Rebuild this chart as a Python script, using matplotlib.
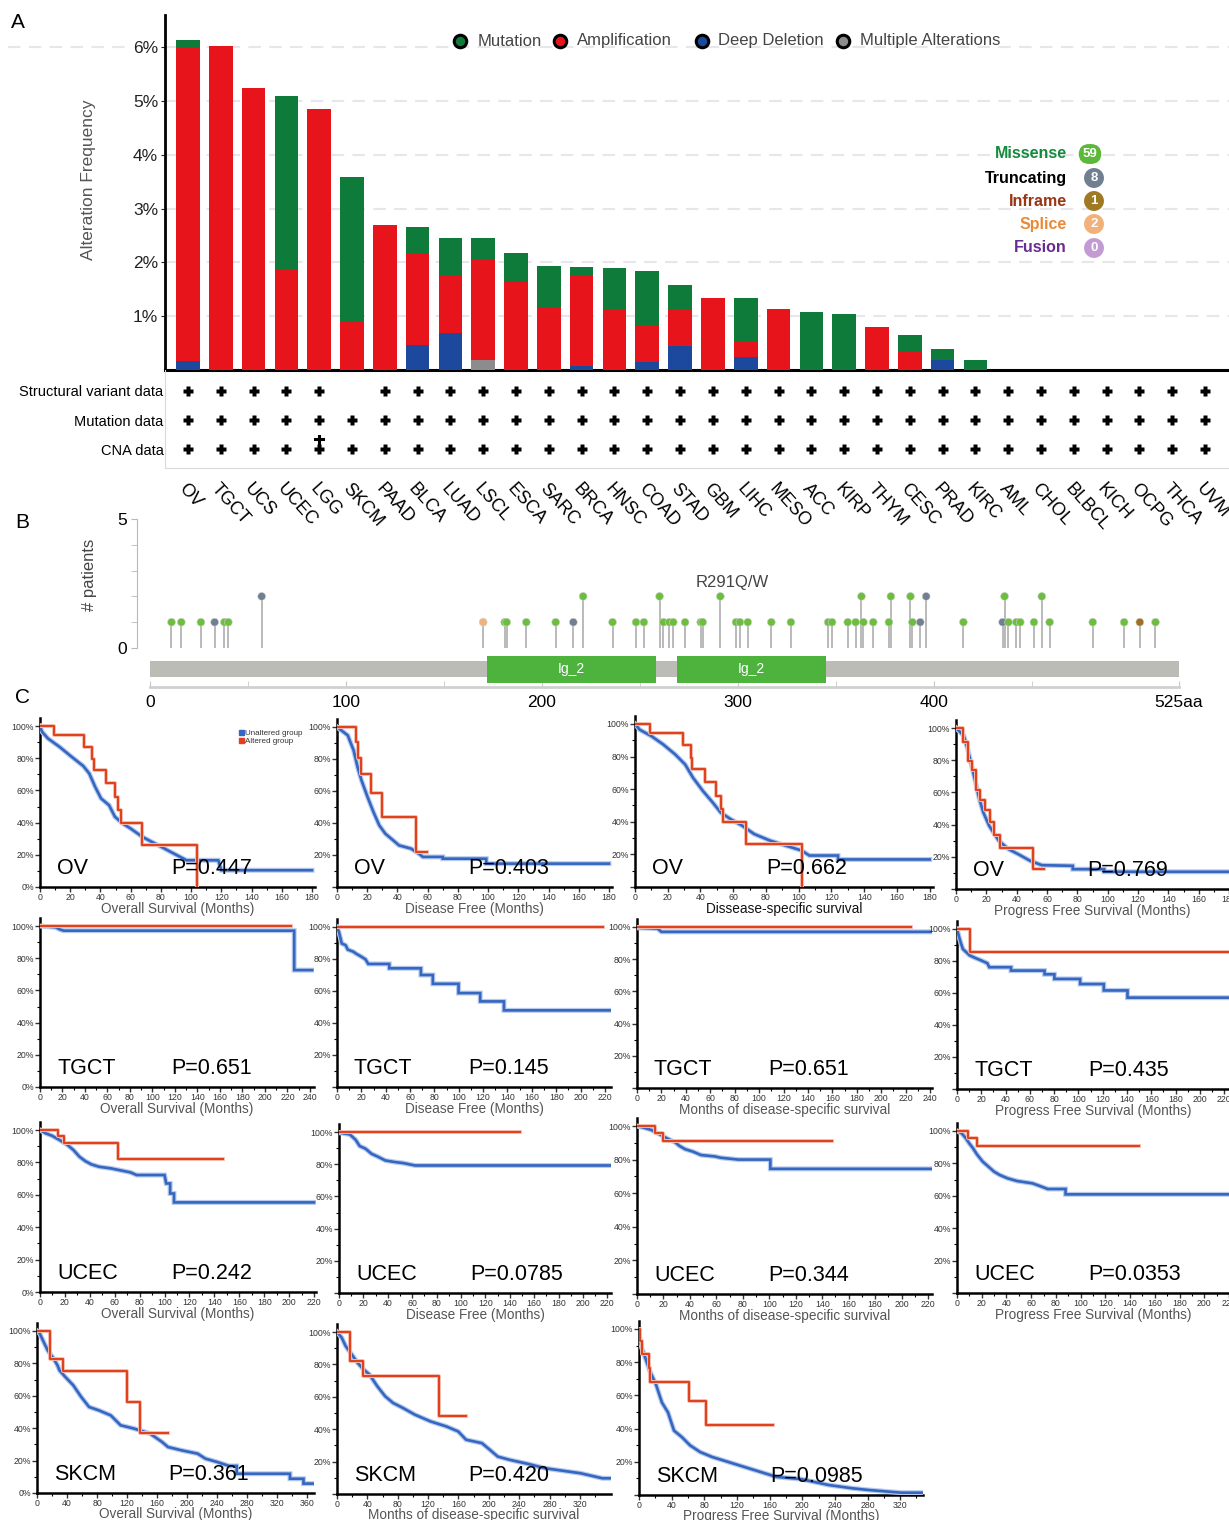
import numpy as np
import matplotlib
matplotlib.use('Agg')
import matplotlib.pyplot as plt
from matplotlib.lines import Line2D
from matplotlib.patches import Patch, Rectangle
import matplotlib.patheffects as pe

plt.rcParams['font.family'] = ['Liberation Sans', 'DejaVu Sans']

# ---------------- panel A data ----------------
CANCER_TYPES = ["OV", "TGCT", "UCS", "UCEC", "LGG", "SKCM", "PAAD", "BLCA", "LUAD", "LSCL",
                "ESCA", "SARC", "BRCA", "HNSC", "COAD", "STAD", "GBM", "LIHC", "MESO", "ACC",
                "KIRP", "THYM", "CESC", "PRAD", "KIRC", "AML", "CHOL", "BLBCL", "KICH", "OCPG",
                "THCA", "UVM"]
DEEP_DELETION = [0.16, 0, 0, 0, 0, 0, 0, 0.47, 0.69, 0, 0, 0, 0.08, 0, 0.155, 0.445, 0, 0.25,
                 0, 0, 0, 0, 0, 0.19, 0, 0, 0, 0, 0, 0, 0, 0]
MULTIPLE = [0, 0, 0, 0, 0, 0, 0, 0, 0, 0.19, 0, 0, 0, 0, 0, 0, 0, 0,
            0, 0, 0, 0, 0, 0, 0, 0, 0, 0, 0, 0, 0, 0]
AMPLIFICATION = [5.82, 6.02, 5.25, 1.875, 4.85, 0.885, 2.70, 1.70, 1.06, 1.85, 1.64, 1.16, 1.66,
                 1.13, 0.675, 0.68, 1.34, 0.28, 1.13, 0, 0, 0.80, 0.33, 0, 0, 0, 0, 0, 0, 0, 0, 0]
MUTATION = [0.16, 0, 0, 3.21, 0, 2.705, 0, 0.49, 0.71, 0.41, 0.54, 0.78, 0.18, 0.77, 1.01, 0.45,
            0, 0.80, 0, 1.08, 1.05, 0, 0.33, 0.20, 0.19, 0, 0, 0, 0, 0, 0, 0]
SV_PROFILED = [1, 1, 1, 1, 1, 0] + [1] * 26
MUT_PROFILED = [1] * 32
CNA_PROFILED = [1, 1, 1, 1, 2] + [1] * 27   # 2 = double mark (LGG)

MUT_TYPES = ["Missense", "Truncating", "Inframe", "Splice", "Fusion"]
MUT_TYPE_COUNTS = [59, 8, 1, 2, 0]

# ---------------- panel B data ----------------
LOLLI_POS = [11, 16, 26, 33, 38, 40, 57, 170, 181, 182, 192, 207, 216, 221, 236, 248, 252, 260,
             262, 265, 267, 273, 281, 282, 291, 299, 301, 305, 317, 327, 346, 348, 356, 360, 363,
             364, 369, 377, 378, 388, 389, 393, 396, 415, 435, 436, 438, 442, 444, 451, 455, 459,
             481, 497, 505, 513]
LOLLI_COUNT = [1, 1, 1, 1, 1, 1, 2, 1, 1, 1, 1, 1, 1, 2, 1, 1, 1, 2,
               1, 1, 1, 1, 1, 1, 2, 1, 1, 1, 1, 1, 1, 1, 1, 1, 2,
               1, 1, 1, 2, 2, 1, 1, 2, 1, 1, 2, 1, 1, 1, 1, 2, 1,
               1, 1, 1, 1]
LOLLI_TYPE = ["M", "M", "M", "T", "M", "M", "T", "S", "M", "M", "M", "M", "T", "M", "M", "M", "M", "M",
              "M", "M", "M", "M", "M", "M", "M", "M", "M", "M", "M", "M", "M", "M", "M", "M", "M",
              "M", "M", "M", "M", "M", "M", "T", "T", "M", "T", "M", "M", "M", "M", "M", "M", "M",
              "M", "M", "I", "M"]
PROTEIN_LENGTH = 525
DOMAIN_START = [172, 269]
DOMAIN_END = [258, 345]
DOMAIN_NAME = ["Ig_2", "Ig_2"]

# ---------------- panel C data (Kaplan-Meier, months / %) ----------------
OV_OS_ALT_T = [0, 9, 29, 34.4, 35.7, 43.8, 49.6, 51.7, 53.5, 67.6, 103.8]
OV_OS_ALT_S = [100, 94.2, 86.9, 79.5, 72.4, 64.5, 56.2, 48.1, 39.8, 26.3, 0]
OV_OS_UN_T = [0, 1.3, 5.2, 13, 20.9, 28.7, 32.6, 36.5, 40.4, 45.7, 49.6, 54.8, 60, 67.8, 78.3, 88.7, 97, 118, 120, 180]
OV_OS_UN_S = [100, 96.5, 92.3, 87, 80.9, 75.1, 70.5, 62.2, 55, 50.8, 43.6, 39.4, 36.3, 31.1, 25.9, 20.7, 16.6, 16.6, 10.4, 10.4]

OV_DFS_ALT_T = [0, 12.3, 13.6, 16.2, 22.8, 29.9, 52.1, 59.5]
OV_DFS_ALT_S = [100, 90.6, 80.8, 70.6, 58.8, 43.8, 21.9, 21.9]
OV_DFS_UN_T = [0, 7.1, 11, 13.6, 16.2, 20.2, 24.1, 28, 32, 35.9, 41.1, 49, 54.2, 56.8, 70, 70, 98.8, 98.8, 180]
OV_DFS_UN_S = [100, 94.8, 85.4, 75, 66.7, 56.3, 46.9, 38.5, 33.3, 30.2, 26, 24, 20.8, 18.8, 18.8, 17.7, 17.7, 14.6, 14.6]

OV_DSS_ALT_T = [0, 8.9, 29.4, 34.2, 34.9, 42.7, 49.4, 52.3, 53.5, 67.5, 102.2]
OV_DSS_ALT_S = [100, 94.5, 87, 79.3, 72.2, 64.4, 55.9, 47.8, 39.6, 26.4, 0]
OV_DSS_UN_T = [0, 2.9, 10.1, 17.3, 24.6, 30.6, 35.4, 41.4, 47.5, 52.3, 58.3, 65.5, 72.8, 82.4, 92, 101.7, 106.5, 124, 124, 180]
OV_DSS_UN_S = [100, 96.5, 92.5, 87.4, 81.3, 75.2, 67.1, 59, 51.8, 45.7, 41.7, 37.6, 32.5, 28.5, 25.4, 22.4, 19.3, 19.3, 16.9, 16.9]

OV_PFS_ALT_T = [0, 4.6, 7.7, 10.3, 12.9, 15.9, 19.3, 22.4, 24.9, 29.1, 50.9, 57.9]
OV_PFS_ALT_S = [100, 91.1, 79.7, 73.9, 61.7, 55.4, 49, 41.8, 33.7, 25.4, 12.4, 12.4]
OV_PFS_UN_T = [0, 5.1, 7.7, 10.3, 12.9, 15.4, 18, 21.9, 28.3, 34.7, 41.1, 48.9, 56.6, 77, 77, 97.7, 97.7, 180]
OV_PFS_UN_S = [100, 95.2, 86.9, 76.6, 66.2, 55.8, 47.6, 39.2, 29.9, 24.7, 21.6, 17.5, 14.8, 14.4, 12.3, 12.3, 10.7, 10.7]

TGCT_OS_ALT_T = [0, 223.5]
TGCT_OS_ALT_S = [100, 100]
TGCT_OS_UN_T = [0, 14, 17.5, 21, 226, 226, 242]
TGCT_OS_UN_S = [100, 99.2, 97.9, 97.1, 97.1, 72.6, 72.6]

TGCT_DFS_ALT_T = [0, 218.4]
TGCT_DFS_ALT_S = [100, 100]
TGCT_DFS_UN_T = [0, 1.6, 3.9, 7.1, 8.8, 13.6, 15.3, 20.1, 23.4, 25.7, 42.9, 42.9, 68.9, 68.9, 78.7, 78.7,
                 99.8, 99.8, 117.6, 117.6, 137.1, 137.1, 225]
TGCT_DFS_UN_S = [100, 96.9, 89.7, 88.6, 85.9, 84.5, 83.5, 81.4, 79.8, 76.9, 76.9, 74.2, 74.2, 70, 70, 64.5,
                 64.5, 58.7, 58.7, 53.5, 53.5, 47.9, 47.9]

TGCT_DSS_ALT_T = [0, 224]
TGCT_DSS_ALT_S = [100, 100]
TGCT_DSS_UN_T = [0, 16.8, 20, 242]
TGCT_DSS_UN_S = [99.5, 99, 97, 97]

TGCT_PFS_ALT_T = [0, 10.4, 223]
TGCT_PFS_ALT_S = [100, 85.5, 85.5]
TGCT_PFS_UN_T = [0, 1.6, 3.2, 4.9, 7.1, 10.4, 15.3, 20.1, 25, 26.6, 44.5, 44.5, 72.1, 72.1, 80.2, 80.2,
                 101.4, 101.4, 120.9, 120.9, 140.4, 140.4, 230]
TGCT_PFS_UN_S = [100, 95.4, 91.2, 87.4, 85.9, 83.5, 81.8, 80.3, 78.6, 76.1, 76.1, 74, 74, 71.7, 71.7, 68.8,
                 68.8, 65.6, 65.6, 61.6, 61.6, 57.1, 57.1]

UCEC_OS_ALT_T = [0, 14.2, 19, 62.7, 147.2]
UCEC_OS_ALT_S = [100, 96.3, 91.8, 82.1, 82.1]
UCEC_OS_UN_T = [0, 4.7, 9.5, 15.8, 22.2, 26.9, 31.7, 36.4, 41.2, 47.5, 57, 63.3, 72.8, 77.6, 100, 101.3,
                104.5, 104.5, 107.6, 107.6, 220]
UCEC_OS_UN_S = [100, 97.9, 96.5, 93.8, 90.7, 87.6, 83.5, 80.8, 78.8, 77.3, 76.3, 75.3, 73.8, 72.2, 72.2, 67,
                67, 60.8, 60.8, 55.3, 55.3]

UCEC_DFS_ALT_T = [0, 148.5]
UCEC_DFS_ALT_S = [100, 100]
UCEC_DFS_UN_T = [0, 8.8, 13.6, 16.9, 21.8, 26.6, 31.5, 38, 46.1, 52.6, 62.4, 222]
UCEC_DFS_UN_S = [99.6, 98.5, 95.2, 91.3, 89.6, 86.5, 84.8, 82.3, 81.3, 80.7, 79.2, 79.2]

UCEC_DSS_ALT_T = [0, 13.4, 19.4, 147.5]
UCEC_DSS_ALT_S = [100, 96.1, 91.2, 91.2]
UCEC_DSS_UN_T = [0, 5.1, 11, 17, 23, 29, 32, 36.4, 42.4, 48.4, 58.8, 63.3, 76.7, 100.8, 100.8, 223]
UCEC_DSS_UN_S = [100, 99, 97.6, 95.1, 92.5, 90.2, 88.2, 86.2, 84.7, 82.7, 81.9, 81.1, 80, 80, 74.5, 74.5]

UCEC_PFS_ALT_T = [0, 9.3, 16.1, 147.2]
UCEC_PFS_ALT_S = [100, 95.9, 91, 91]
UCEC_PFS_UN_T = [0, 3.7, 6.8, 9.9, 13, 16.1, 20.8, 25.4, 30, 34.7, 40.9, 48.7, 61, 67.2, 73.4, 87.8, 87.8, 222]
UCEC_PFS_UN_S = [100, 98.6, 95.9, 92.4, 89.3, 85.6, 81.1, 78, 74.9, 72.8, 70.8, 69.1, 67.7, 66, 64.2, 64.2, 60.9, 60.9]

SKCM_OS_ALT_T = [0, 16.8, 35.2, 119.3, 137.7, 174.5]
SKCM_OS_ALT_S = [100, 82.9, 75.1, 56.2, 37, 37]
SKCM_OS_UN_T = [0, 3.7, 8.9, 14.2, 22.1, 27.3, 30, 37.8, 48.3, 58.9, 69.4, 82.5, 98.3, 111.4, 129.8, 150.8,
                166.6, 174.5, 192.9, 213.9, 224.4, 240.2, 255.9, 266, 266, 337, 337, 355, 355, 369]
SKCM_OS_UN_S = [100, 98.4, 93.2, 88.1, 82.9, 78.8, 75.7, 71.6, 66.5, 59.3, 53.1, 51, 47.9, 41.8, 39.7, 36.6,
                31.5, 28.4, 26.3, 24.3, 21.2, 19.1, 16.7, 16.7, 11.9, 11.9, 8.8, 8.8, 5.8, 5.8]

SKCM_DSS_ALT_T = [0, 16.6, 34.9, 134.8, 170]
SKCM_DSS_ALT_S = [100, 82, 72.7, 48.3, 48.3]
SKCM_DSS_UN_T = [0, 6.2, 11.4, 19.3, 27.1, 34.9, 42.7, 53.1, 63.5, 73.9, 86.9, 102.5, 123.3, 144.1, 159.7,
                 170.1, 190.9, 201.4, 211.8, 227.4, 253.4, 274.2, 321, 349.6, 360]
SKCM_DSS_UN_S = [100, 96.5, 91.3, 86.2, 81, 76.9, 73.8, 66.5, 60.3, 56.2, 53.1, 49, 44.8, 41.7, 38.6,
                 33.5, 31.4, 27.3, 23.1, 21.1, 18.4, 15.9, 12.8, 9.7, 9.7]

SKCM_PFS_ALT_T = [0, 1.5, 3.5, 12.3, 13.5, 61, 82.3, 164.5]
SKCM_PFS_ALT_S = [100, 92.5, 85, 76.6, 68.2, 56.7, 42.3, 42.3]
SKCM_PFS_UN_T = [0, 1, 3.4, 8.4, 13.3, 20.7, 28.1, 35.5, 42.9, 52.7, 62.6, 74.9, 89.7, 109.4, 129.1, 148.8,
                 168.5, 198, 232.5, 262.1, 281.8, 321.2, 348]
SKCM_PFS_UN_S = [99.6, 93.6, 88.6, 81.6, 74.6, 66.7, 55.7, 49.8, 38.8, 34.8, 29.9, 25.9, 22.9, 19.9, 16.9, 13.9,
                 10.9, 9.6, 6, 4, 3, 1.4, 1.4]

P_VALUES = [["0.447", "0.403", "0.662", "0.769"],
            ["0.651", "0.145", "0.651", "0.435"],
            ["0.242", "0.0785", "0.344", "0.0353"],
            ["0.361", "0.420", "0.0985"]]
ROW_CANCERS = ["OV", "TGCT", "UCEC", "SKCM"]

C_MUT = '#0f7b3b'
C_AMP = '#e8141c'
C_DEL = '#1c489e'
C_MULTI = '#8c8c8c'
C_BLUE = '#3566c0'
C_RED = '#e0421e'

W, H = 1229, 1520
fig = plt.figure(figsize=(W / 100, H / 100), dpi=100)


def px_axes(left, top, right, bottom):
    ax = fig.add_axes([left / W, 1 - bottom / H, (right - left) / W, (bottom - top) / H])
    ax.patch.set_visible(False)
    return ax


def fx(x):
    return x / W


def fy(y):
    return 1 - y / H


# ================= Panel A =================
fig.add_artist(Line2D([fx(8), fx(126)], [fy(47), fy(47)], color='#e6e6ec', lw=1.5, ls=(0, (6, 4)), zorder=0))
axA = px_axes(165, 15, 1229, 370)
xs = np.arange(len(CANCER_TYPES))
base = np.zeros(len(xs))
for vals, col in [(DEEP_DELETION, C_DEL), (MULTIPLE, C_MULTI), (AMPLIFICATION, C_AMP), (MUTATION, C_MUT)]:
    axA.bar(xs, vals, width=0.72, bottom=base, color=col, edgecolor='none', zorder=3)
    base = base + np.array(vals)
axA.set_xlim(-0.7, 31.73)
axA.set_ylim(0, 6.6)
for v in range(1, 7):
    axA.axhline(v, color='#e6e6ec', lw=1.5, ls=(0, (6, 4)), zorder=1)
axA.set_yticks(range(1, 7), [f'{v}%' for v in range(1, 7)])
axA.set_xticks([])
axA.tick_params(axis='y', labelsize=12.5, length=3, pad=2, colors='#222')
for s in ['top', 'right']:
    axA.spines[s].set_visible(False)
axA.spines['left'].set_linewidth(2)
axA.spines['bottom'].set_linewidth(2.2)
fig.text(fx(88), fy(180), 'Alteration Frequency', rotation=90, ha='center', va='center',
         fontsize=12.5, color='#555')

# top legend
for mx, tx, col, lab in [(460, 478, C_MUT, 'Mutation'), (560, 577, C_AMP, 'Amplification'),
                          (702, 718, C_DEL, 'Deep Deletion'), (843, 860, C_MULTI, 'Multiple Alterations')]:
    fig.add_artist(Line2D([fx(mx)], [fy(41)], marker='o', ms=9, mfc=col, mec='black', mew=2.2,
                          transform=fig.transFigure))
    fig.text(fx(tx), fy(41), lab, ha='left', va='center', fontsize=12, color='#444')

# mutation type legend
type_colors = ['#138a3c', '#000000', '#9a3412', '#e88a36', '#6a2c91']
badge_colors = ['#5cb83a', '#708090', '#a07a22', '#f0b27a', '#c39bd3']
for i, (lab, cnt) in enumerate(zip(MUT_TYPES, MUT_TYPE_COUNTS)):
    yy = [154, 178, 201, 224, 248][i]
    fig.text(fx(1067), fy(yy), lab, ha='right', va='center', fontsize=11.5, fontweight='bold',
             color=type_colors[i])
    style = 'round,pad=0.3,rounding_size=0.8' if cnt >= 10 else 'circle,pad=0.3'
    fig.text(fx(1090 if cnt >= 10 else 1094), fy(yy), str(cnt), ha='center', va='center', fontsize=9.5,
             fontweight='bold', color='white',
             bbox=dict(boxstyle=style, fc=badge_colors[i], ec='none'))

# data availability rows
axR = px_axes(165, 370, 1229, 468)
axR.set_xlim(axA.get_xlim())
axR.set_ylim(2.655, -0.724)
for row, flags in enumerate([SV_PROFILED, MUT_PROFILED, CNA_PROFILED]):
    px_ = [i for i, f in enumerate(flags) if f]
    axR.plot(px_, [row] * len(px_), ls='none', marker='P', ms=7.5, color='black', mec='none')
    for i, f in enumerate(flags):
        if f == 2:
            axR.plot([i, i], [row - 0.45, row], color='black', lw=2.2)
            axR.plot([i - 0.13, i + 0.13], [row - 0.33, row - 0.33], color='black', lw=2.2)
axR.set_yticks([0, 1, 2], ['Structural variant data', 'Mutation data', 'CNA data'])
axR.set_xticks(xs, CANCER_TYPES, rotation=-48, ha='left', va='top', rotation_mode='anchor')
axR.tick_params(axis='y', length=0, pad=1, labelsize=10.5)
axR.tick_params(axis='x', length=0, pad=9, labelsize=13)
for s in ['top', 'right']:
    axR.spines[s].set_visible(False)
axR.spines['left'].set_color('#d9d9d9')
axR.spines['bottom'].set_color('#d9d9d9')

fig.text(fx(18), fy(22), 'A', fontsize=15, ha='center', va='center')

# ================= Panel B =================
axB = px_axes(137, 514, 1229, 687)
axB.set_xlim(-6.6, 550.5)
axB.set_ylim(-1.51, 5.19)
axB.add_patch(Rectangle((0, -1.124), PROTEIN_LENGTH, 0.62, fc='#bbbcb5', ec='none', zorder=1))
for s0, s1, name in zip(DOMAIN_START, DOMAIN_END, DOMAIN_NAME):
    axB.add_patch(Rectangle((s0, -1.357), s1 - s0, 1.047, fc='#4db33d', ec='none', zorder=2))
    axB.text((s0 + s1) / 2, -0.83, name, color='white', ha='center', va='center', fontsize=10, zorder=3)
type_map = {'M': '#6cbf3c', 'T': '#708090', 'S': '#f0b27a', 'I': '#a0701e'}
axB.vlines(LOLLI_POS, 0, LOLLI_COUNT, color='#b4b4b4', lw=1.3, zorder=3)
axB.scatter(LOLLI_POS, LOLLI_COUNT, s=32, c=[type_map[t] for t in LOLLI_TYPE], edgecolors='#cfcfcf',
            linewidths=0.4, zorder=4)
axB.text(297, 2.52, 'R291Q/W', ha='center', va='center', fontsize=12, color='#444')
axB.set_yticks([0, 5], ['0', '5'])
axB.set_yticks([1, 2, 3, 4], minor=True)
axB.set_xticks([0, 100, 200, 300, 400, 525], ['0', '100', '200', '300', '400', '525aa'])
axB.set_xticks([50, 150, 250, 350, 450], minor=True)
axB.tick_params(axis='y', which='both', length=4, color='#b8b8b8', labelsize=12.5, pad=3)
axB.tick_params(axis='x', which='both', length=4, direction='in', color='#c8c8c8', labelsize=12.5, pad=6)
for s in ['top', 'right']:
    axB.spines[s].set_visible(False)
axB.spines['left'].set_bounds(0, 5)
axB.spines['left'].set_color('#b8b8b8')
axB.spines['bottom'].set_bounds(0, PROTEIN_LENGTH)
axB.spines['bottom'].set_color('#d0d0d0')
axB.spines['bottom'].set_linewidth(2)
fig.text(fx(90), fy(575), '# patients', rotation=90, ha='center', va='center', fontsize=12, color='#444')
fig.text(fx(22), fy(522), 'B', fontsize=15, ha='center', va='center')
fig.text(fx(22), fy(697), 'C', fontsize=15, ha='center', va='center')

# ================= Panel C =================
KM_CURVES = [
    [(OV_OS_ALT_T, OV_OS_ALT_S, OV_OS_UN_T, OV_OS_UN_S),
     (OV_DFS_ALT_T, OV_DFS_ALT_S, OV_DFS_UN_T, OV_DFS_UN_S),
     (OV_DSS_ALT_T, OV_DSS_ALT_S, OV_DSS_UN_T, OV_DSS_UN_S),
     (OV_PFS_ALT_T, OV_PFS_ALT_S, OV_PFS_UN_T, OV_PFS_UN_S)],
    [(TGCT_OS_ALT_T, TGCT_OS_ALT_S, TGCT_OS_UN_T, TGCT_OS_UN_S),
     (TGCT_DFS_ALT_T, TGCT_DFS_ALT_S, TGCT_DFS_UN_T, TGCT_DFS_UN_S),
     (TGCT_DSS_ALT_T, TGCT_DSS_ALT_S, TGCT_DSS_UN_T, TGCT_DSS_UN_S),
     (TGCT_PFS_ALT_T, TGCT_PFS_ALT_S, TGCT_PFS_UN_T, TGCT_PFS_UN_S)],
    [(UCEC_OS_ALT_T, UCEC_OS_ALT_S, UCEC_OS_UN_T, UCEC_OS_UN_S),
     (UCEC_DFS_ALT_T, UCEC_DFS_ALT_S, UCEC_DFS_UN_T, UCEC_DFS_UN_S),
     (UCEC_DSS_ALT_T, UCEC_DSS_ALT_S, UCEC_DSS_UN_T, UCEC_DSS_UN_S),
     (UCEC_PFS_ALT_T, UCEC_PFS_ALT_S, UCEC_PFS_UN_T, UCEC_PFS_UN_S)],
    [(SKCM_OS_ALT_T, SKCM_OS_ALT_S, SKCM_OS_UN_T, SKCM_OS_UN_S),
     (SKCM_DSS_ALT_T, SKCM_DSS_ALT_S, SKCM_DSS_UN_T, SKCM_DSS_UN_S),
     (SKCM_PFS_ALT_T, SKCM_PFS_ALT_S, SKCM_PFS_UN_T, SKCM_PFS_UN_S)],
]
OS_L = 'Overall Survival (Months)'
DF_L = 'Disease Free (Months)'
DS_L = 'Months of disease-specific survival'
PF_L = 'Progress Free Survival (Months)'
X_LABELS = [[OS_L, DF_L, 'Dissease-specific survival', PF_L],
            [OS_L, DF_L, DS_L, PF_L],
            [OS_L, DF_L, DS_L, PF_L],
            [OS_L, DS_L, PF_L]]

# layout: left px, right px, y(100%) px, y(0%) px, xmax, tick step, last labelled tick
LAYOUT = [
    [(40, 315, 726, 887, 182, 20, 180), (337, 612, 727, 887, 182, 20, 180),
     (635, 933, 724, 887, 182, 20, 180), (956, 1229, 728, 889, 177.4, 20, 180)],
    [(40, 314, 926, 1087, 243.6, 20, 240), (337, 611, 927, 1087, 225, 20, 220),
     (637, 932, 927, 1088, 241.6, 20, 240), (957, 1229, 929, 1089, 224, 20, 220)],
    [(40, 316, 1130, 1292, 221.6, 20, 220), (339, 611, 1132, 1293, 223, 20, 220),
     (637, 932, 1126, 1294, 223, 20, 220), (957, 1229, 1131, 1293, 213, 20, 220)],
    [(37, 314, 1331, 1493, 369, 40, 360), (337, 611, 1332, 1494, 361, 40, 320),
     (639, 923, 1329, 1495, 348, 40, 320)],
]

for r, row in enumerate(LAYOUT):
    for c, (left, right, y100, y0, xmax, step, tmax) in enumerate(row):
        top = y100 - 8
        ax = px_axes(left, top, right, y0)
        at, as_, ut, us = KM_CURVES[r][c]
        ax.plot(ut, us, color=C_BLUE, lw=1.9, solid_joinstyle='miter', zorder=3,
                path_effects=[pe.Stroke(linewidth=3.6, foreground='#b7cbee'), pe.Normal()])
        ax.step(at, as_, where='post', color=C_RED, lw=1.5, zorder=4,
                path_effects=[pe.Stroke(linewidth=2.8, foreground='#f6c0b2'), pe.Normal()])
        ax.set_xlim(0, xmax)
        ax.set_ylim(0, 100 + 800 / (y0 - y100))
        ax.set_xticks(np.arange(0, tmax + 1, step))
        ax.set_xticks(np.arange(step / 2, xmax, step), minor=True)
        ylabels = [f'{v}%' if (v > 0 or c == 0) else '' for v in range(0, 101, 20)]
        ax.set_yticks(range(0, 101, 20), ylabels)
        ax.set_yticks(range(10, 100, 20), minor=True)
        ax.tick_params(which='major', length=3.5, width=1, labelsize=6.3, pad=1, colors='#333')
        ax.tick_params(which='minor', length=2, width=0.8)
        for s in ['top', 'right']:
            ax.spines[s].set_visible(False)
        for s in ['left', 'bottom']:
            ax.spines[s].set_linewidth(1.8)
        lab_col = '#111' if (r == 0 and c == 2) else '#555'
        ax.set_xlabel(X_LABELS[r][c], fontsize=9.8, color=lab_col, labelpad=-1 if r == 3 else 0)
        wpx = right - left
        hpx = y0 - top
        ax.text(17 / wpx, 13 / hpx, ROW_CANCERS[r], transform=ax.transAxes, fontsize=15.5,
                va='baseline', ha='left', zorder=5)
        ax.text(131 / wpx, 13 / hpx, 'P=' + P_VALUES[r][c], transform=ax.transAxes, fontsize=15.5,
                va='baseline', ha='left', zorder=5)
        if r == 0 and c == 0:
            ax.legend(handles=[Patch(color=C_BLUE), Patch(color=C_RED)],
                      labels=['Unaltered group', 'Altered group'], fontsize=5.8, loc='upper right',
                      bbox_to_anchor=(1 - 8 / wpx, 1 - 8 / hpx), frameon=False, handlelength=0.6,
                      handleheight=0.6, handletextpad=0.2, labelspacing=0.05, borderpad=0,
                      labelcolor='#333')

fig.savefig('out.png', dpi=100)
